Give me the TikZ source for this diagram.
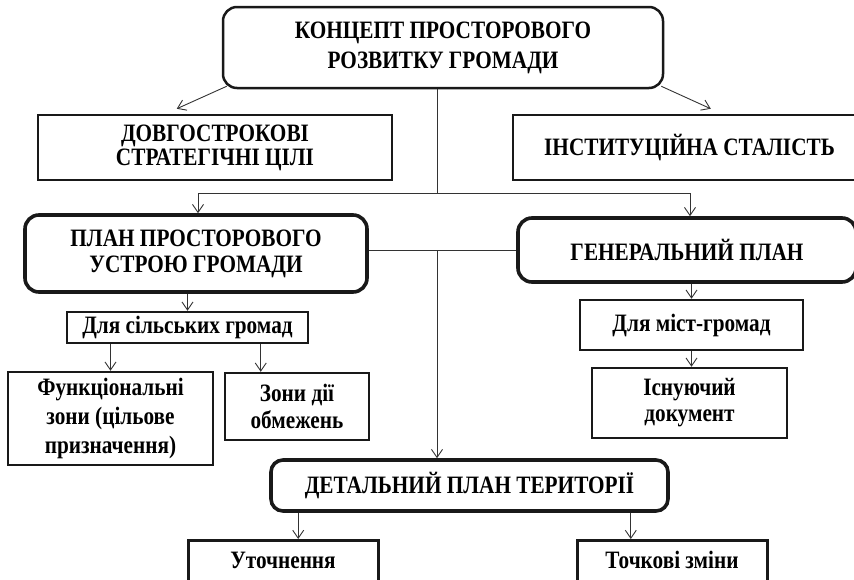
\documentclass[tikz,border=0pt]{standalone}
\usepackage{fontspec}
\setmainfont[FakeStretch=0.85]{Liberation Serif}
\usetikzlibrary{arrows.meta}
\begin{document}
\begin{tikzpicture}[x=1pt,y=-1pt,
  every node/.style={font=\bfseries\fontsize{25}{26}\selectfont, align=center, inner sep=0pt},
  rbox/.style={draw=black!90, rounded corners=14pt, line width=2.5pt},
  tbox/.style={draw=black!90, rounded corners=14pt, line width=3.6pt},
  sbox/.style={draw=black!90, line width=2.5pt},
  link/.style={line width=0.9pt, draw=black!80},
  arr/.style={link, -{Straight Barb[length=8pt,width=11pt,line width=0.9pt]}}
]
\useasboundingbox (0,0) rectangle (854,579);

% top level
\node[rbox, minimum width=440, minimum height=81,
      font=\bfseries\fontsize{25}{30}\selectfont] (concept) at (443,47.5)
  {КОНЦЕПТ ПРОСТОРОВОГО\\РОЗВИТКУ ГРОМАДИ};
\node[sbox, minimum width=354, minimum height=65,
      font=\bfseries\fontsize{25}{24}\selectfont] (goals) at (215,147.5)
  {ДОВГОСТРОКОВІ\\СТРАТЕГІЧНІ ЦІЛІ};
\node[sbox, minimum width=353, minimum height=65] (inst) at (689.5,147.5)
  {ІНСТИТУЦІЙНА СТАЛІСТЬ};

% planning documents
\node[tbox, minimum width=342, minimum height=77] (plan) at (196,253.5)
  {ПЛАН ПРОСТОРОВОГО\\УСТРОЮ ГРОМАДИ};
\node[tbox, minimum width=338, minimum height=64] (general) at (687,250)
  {ГЕНЕРАЛЬНИЙ ПЛАН};

% rural branch
\node[sbox, minimum width=241, minimum height=31] (rural) at (187.5,327.5)
  {Для сільських громад};
\node[sbox, minimum width=205, minimum height=93,
      font=\bfseries\fontsize{25}{29}\selectfont] (func) at (110.5,418.5)
  {Функціональні\\зони (цільове\\призначення)};
\node[sbox, minimum width=144, minimum height=67,
      font=\bfseries\fontsize{25}{27}\selectfont] (zones) at (297,406.5)
  {Зони дії\\обмежень};

% city branch
\node[sbox, minimum width=223, minimum height=50] (city) at (691.5,325)
  {Для міст-громад};
\node[sbox, minimum width=195, minimum height=70,
      font=\bfseries\fontsize{25}{26}\selectfont] (existing) at (689.5,403)
  {Існуючий\\документ};

% detailed plan
\node[tbox, rounded corners=12pt, minimum width=397, minimum height=51] (detail) at (469.5,485.5)
  {ДЕТАЛЬНИЙ ПЛАН ТЕРИТОРІЇ};
\node[sbox, line width=3pt, anchor=north, minimum width=190,
      text height=19pt, text depth=30pt, inner ysep=9pt] (refine) at (283,539)
  {Уточнення};
\node[sbox, line width=3pt, anchor=north, minimum width=190,
      text height=19pt, text depth=30pt, inner ysep=9pt] (point) at (672,539)
  {Точкові зміни};

% connectors from the concept
\draw[arr] ([shift={(5,-3)}]concept.south west) -- ([shift={(140,-5)}]goals.north west);
\draw[arr] ([shift={(-3,-3)}]concept.south east) -- ([shift={(199,-5)}]inst.north west);
\coordinate (j1) at (437,193);
\coordinate (jl) at (198,193);
\coordinate (jr) at (690,193);
\draw[link] (concept.south -| j1) -- (j1);
\draw[link] (jl) -- (jr);
\draw[arr] (jl) -- (jl |- plan.north);
\draw[arr] (jr) -- (jr |- general.north);

% link between the two plans, down to the detailed plan
\coordinate (j2) at (437,250);
\draw[link] (plan.east |- general.west) -- (general.west);
\draw[arr] (j2) -- (j2 |- detail.north);

% rural branch arrows
\draw[arr] (plan.south -| rural.north) -- (rural.north);
\draw[arr] (rural.south -| func.north) -- (func.north);
\coordinate (z1) at ([xshift=195]rural.south west);
\draw[arr] (z1) -- (z1 |- zones.north);

% city branch arrows
\draw[arr] (city.north |- general.south) -- (city.north);
\draw[arr] (city.south) -- (city.south |- existing.north);

% detailed plan arrows
\coordinate (d1) at ([xshift=29]detail.south west);
\coordinate (d2) at ([xshift=-39]detail.south east);
\draw[arr] (d1) -- (d1 |- refine.north);
\draw[arr] (d2) -- (d2 |- point.north);
\end{tikzpicture}
\end{document}
